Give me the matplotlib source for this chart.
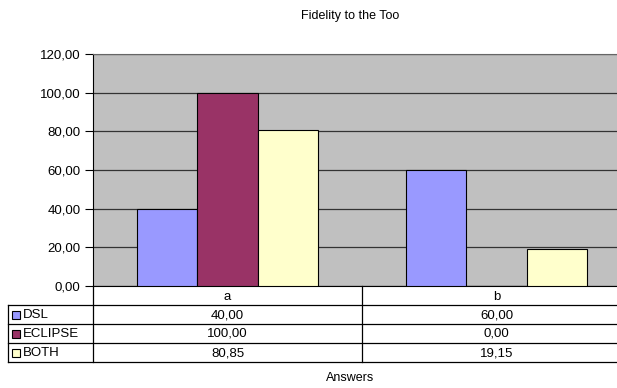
import matplotlib
matplotlib.use("Agg")
import matplotlib.pyplot as plt
from matplotlib.patches import Rectangle

plt.rcParams['font.family'] = ['Liberation Sans', 'DejaVu Sans']

categorias = ["a", "b"]
series = ["DSL", "ECLIPSE", "BOTH"]
dsl = [40.00, 60.00]
eclipse = [100.00, 0.00]
both = [80.85, 19.15]
valores = [dsl, eclipse, both]
colores = ["#9999ff", "#993366", "#ffffcc"]

W, H = 617, 388
fig = plt.figure(figsize=(W / 100, H / 100), dpi=100)

# area del grafico en pixeles (se sale por la derecha como en el original)
x0, x1, ytop, ybot = 93, 631, 54, 286
ax = fig.add_axes([x0 / W, (H - ybot) / H, (x1 - x0) / W, (ybot - ytop) / H])
ax.set_facecolor("#c0c0c0")

ancho = 0.224
for i, (nombre, vals, c) in enumerate(zip(series, valores, colores)):
    pos = [k + (i - 1) * ancho for k in range(len(categorias))]
    ax.bar(pos, vals, width=ancho, color=c, edgecolor="black", linewidth=0.8, zorder=3)

ax.set_xlim(-0.5, len(categorias) - 0.5)
ax.set_ylim(0, 120)
ax.set_yticks(range(0, 121, 20))
ax.set_yticklabels([f"{v:.2f}".replace(".", ",") for v in range(0, 121, 20)], fontsize=9.5)
ax.yaxis.grid(True, color="#333333", linewidth=0.9, zorder=1)
ax.set_axisbelow(True)
ax.set_xticks([])
ax.tick_params(axis="y", length=6, width=0.8, pad=3)
for lado in ["top", "right"]:
    ax.spines[lado].set_color("#666666")
ax.spines["left"].set_color("black")
ax.spines["bottom"].set_color("black")

fig.text(350 / W, 1 - 16 / H, "Fidelity to the Too", ha="center", va="center", fontsize=9)

# tabla de datos
t = fig.add_axes([0, 0, 1, 1])
t.set_xlim(0, W)
t.set_ylim(H, 0)
t.axis("off")
t.patch.set_alpha(0)

ancho_cat = (x1 - x0) / len(categorias)
filas = [305, 324, 343, 362]
lw = 0.9
t.plot([x0, x0], [ybot, filas[-1]], color="black", lw=lw)
for k in range(1, len(categorias) + 1):
    xc = x0 + k * ancho_cat
    t.plot([xc, xc], [ybot, filas[-1]], color="black", lw=lw)
t.plot([8, 8], [filas[0], filas[-1]], color="black", lw=lw)
for y in filas:
    t.plot([8, W], [y, y], color="black", lw=lw)

for k, cat in enumerate(categorias):
    t.text(x0 + (k + 0.5) * ancho_cat, (ybot + filas[0]) / 2 + 1, cat,
           ha="center", va="center", fontsize=9.5)

for i, (nombre, vals, c) in enumerate(zip(series, valores, colores)):
    yc = (filas[i] + filas[i + 1]) / 2
    t.add_patch(Rectangle((12, yc - 4), 8, 8, facecolor=c, edgecolor="black", lw=0.8))
    t.text(23, yc + 0.5, nombre, ha="left", va="center", fontsize=9.5)
    for k, v in enumerate(vals):
        t.text(x0 + (k + 0.5) * ancho_cat, yc + 0.5, f"{v:.2f}".replace(".", ","),
               ha="center", va="center", fontsize=9.5)

t.text(350, 378, "Answers", ha="center", va="center", fontsize=9)

fig.savefig("out.png", dpi=100)
